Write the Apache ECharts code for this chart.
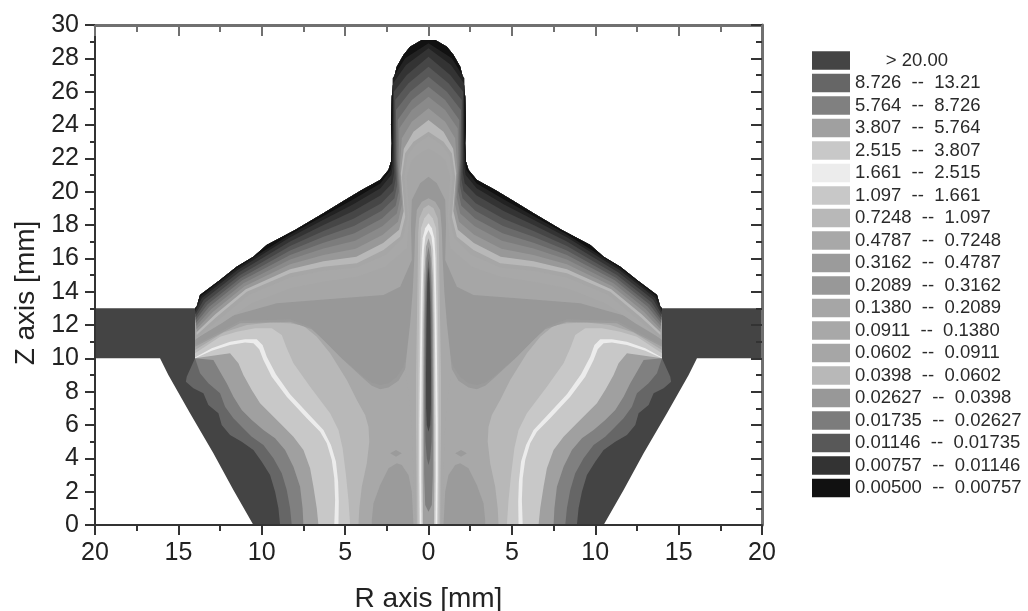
<!DOCTYPE html>
<html>
<head>
<meta charset="utf-8">
<style>
html,body{margin:0;padding:0;background:#fff}
#chart{width:1028px;height:611px}
#chart canvas{filter:blur(.55px)}
</style>
<script src="https://cdn.jsdelivr.net/npm/echarts@6/dist/echarts.min.js"></script>
</head>
<body>
<div id="chart"></div>
<script>
// All outlines are [R mm, Z mm], right half; the left half is their mirror.
const legendLabels = [
  "      > 20.00","8.726  --  13.21","5.764  --  8.726","3.807  --  5.764","2.515  --  3.807",
  "1.661  --  2.515","1.097  --  1.661","0.7248  --  1.097","0.4787  --  0.7248","0.3162  --  0.4787",
  "0.2089  --  0.3162","0.1380  --  0.2089","0.0911  --  0.1380","0.0602  --  0.0911","0.0398  --  0.0602",
  "0.02627  --  0.0398","0.01735  --  0.02627","0.01146  --  0.01735","0.00757  --  0.01146","0.00500  --  0.00757"];
const legendColors = ["#444444","#666666","#808080","#a0a0a0","#c8c8c8","#ececec","#c8c8c8","#b8b8b8","#a8a8a8","#9b9b9b",
  "#989898","#a6a6a6","#a8a8a8","#a6a6a6","#b8b8b8","#989898","#7c7c7c","#585858","#333333","#111111"];

const silhouette = [[0,29.1],[0.4,29.1],[1.1,28.7],[1.5,28.2],[1.9,27.5],[2.1,26.7],[2.2,25.7],[2.25,24],[2.2,22.9],[2.25,21.8],[2.4,21.3],[2.9,20.7],[4,20.1],[5,19.5],[6.3,18.7],[8,17.7],[9.7,16.8],[10.5,16.1],[11.5,15.5],[12.5,14.7],[13.7,13.8],[13.9,13.1],[14,13]];
const slabCone = [[20,13],[20,10],[16.1,10],[15.6,9],[14.3,6.7],[12.9,4.3],[11.7,2.1],[10.5,0],[0,0]];
const notch = [[14,10]];

const lower1 = [[14.5,8.9],[14.55,8.6],[14.1,8.2],[13.5,7.9],[13.2,7.2],[12.6,6.7],[12.4,6],[11.9,5.4],[11.2,5],[10.5,4.5],[10,3.8],[9.5,3],[9.2,2],[9,1],[8.9,0],[0,0]];
const lower2 = [[13.7,9.1],[13.2,8.5],[12.5,7.9],[12.2,7.1],[11.7,6.4],[11.2,5.9],[10.6,5.3],[9.9,4.8],[9.3,4],[8.8,3.1],[8.5,2.1],[8.3,1],[8.2,0],[0,0]];
const lower3 = [[12.9,9.9],[12.5,9.2],[12.1,8.5],[11.7,7.7],[11.2,6.9],[10.6,6.3],[9.9,5.7],[9.2,5.2],[8.6,4.5],[8.1,3.5],[7.7,2.3],[7.55,1],[7.5,0],[0,0]];
const lower4 = [[11.9,10.3],[11.4,9.7],[11.1,9],[10.6,8.1],[10.1,7.3],[9.5,6.7],[8.9,6.1],[8.1,5.3],[7.5,4.5],[7.1,3.4],[6.9,2.3],[6.7,1],[6.6,0],[0,0]];
const lower5 = [[13,10.45],[11.9,10.8],[11,10.95],[10.5,10.9],[10.15,10.55],[9.9,9.9],[9.4,8.9],[8.5,7.7],[7.3,6.4],[6.5,5.6],[6.1,4.9],[5.8,3.9],[5.65,2.8],[5.6,1.5],[5.65,0],[0,0]];
const lower6 = [[14,10.05],[13,10.6],[11.9,11],[11,11.15],[10.3,11.15],[9.95,10.8],[9.7,10.1],[9.15,9.05],[8.3,7.85],[7.1,6.55],[6.3,5.7],[5.85,4.8],[5.55,3.8],[5.42,2.6],[5.38,1.4],[5.4,0],[0,0]];
const lower7 = [[14,10.3],[12.5,11.3],[11.5,11.6],[10.4,11.8],[9.4,11.8],[8.8,11.4],[8.5,10.6],[8.1,9.7],[7.1,8.3],[5.9,6.7],[5.4,5.7],[5.15,4.6],[4.95,3],[4.8,1.5],[4.7,0],[0,0]];
const lower8 = [[14,10.5],[12.3,11.55],[10.9,12],[9.5,12.15],[8.3,12.1],[7.5,11.95],[6.7,11.3],[5.9,10.3],[4.9,8.7],[4.3,7.5],[3.8,6.6],[3.6,5.9],[3.55,5],[3.7,3.7],[4,2.3],[4.15,1],[4.2,0],[0,0]];
const plateauRing = [[14,10.7],[11.3,12.1],[8.3,12.2],[7,11.75],[6.15,11],[5.15,9.95],[3.8,8.7],[3.4,8.35],[2.9,8.15],[2.4,8.25],[1.8,8.65],[1.2,9.7],[0,9.7]];
const plateauLow = [[14,10.8],[11.3,12.25],[8.3,12.35],[7.1,11.9],[6.3,11.1],[5.3,10.1],[3.9,8.9],[3.4,8.55],[2.9,8.4],[2.4,8.5],[1.9,8.9],[1.5,9.5],[1.3,10.2],[0,10.2]];
const bottomLobe = [[1.9,3.7],[2.4,3.4],[2.9,2.4],[3.3,1.3],[3.4,0.3],[3.4,0],[0.9,0],[1,2],[1.2,3],[1.6,3.6]];
const smallSpot = [[1.6,4.3],[1.95,4.5],[2.3,4.3],[1.95,4.1]];
const plateauTop = [[14,11.1],[12.3,12.4],[9.1,13.3],[5.3,13.6],[2.7,13.8],[1.7,14.3],[1,15.9],[1.05,18],[1,19.5],[0.5,20.5],[0,20.9]];

const upperA = [[13.9,11.2],[12.4,12.1],[10.6,13.3],[8.3,14.2],[6.3,14.6],[4.3,14.9],[2.6,15.5],[1.3,16.6],[1.15,18.5],[1.3,20.9],[1,21.9],[0.5,22.3],[0,22.6]];
const upperB = [[13.88,11.25],[12.6,12.3],[10.8,13.8],[8.3,14.85],[6.3,15.25],[4.3,15.45],[2.6,16.2],[1.55,17.2],[1.25,18.5],[1.45,20.9],[1.25,22.2],[0.8,22.8],[0,23.35]];
const ridgeLow = [[13.9,11.4],[12.7,12.5],[10.9,14],[8.3,15.1],[6.3,15.5],[4.3,15.7],[2.7,16.5],[1.7,17.3],[1.4,18.5],[1.6,20.9],[1.4,22.3],[0.9,23],[0,23.6]];
const rim1 = [[13.91,11.56],[12.8,12.63],[10.96,14.15],[8.3,15.35],[6.3,15.82],[4.33,16.1],[2.72,16.92],[1.76,17.71],[1.49,18.84],[1.66,21.1],[1.48,22.57],[0.9,23.6],[0,24.3]];
const rim2 = [[13.92,11.75],[12.92,12.79],[11.03,14.33],[8.3,15.64],[6.3,16.2],[4.37,16.58],[2.74,17.42],[1.83,18.2],[1.59,19.25],[1.73,21.34],[1.6,23.2],[1,24.2],[0,25]];
const rim3 = [[13.93,11.94],[13.04,12.94],[11.1,14.51],[8.3,15.93],[6.3,16.59],[4.4,17.06],[2.77,17.93],[1.9,18.69],[1.69,19.66],[1.8,21.58],[1.75,23.8],[1,24.9],[0,25.7]];
const rim4 = [[13.95,12.12],[13.15,13.09],[11.17,14.68],[8.3,16.2],[6.3,16.94],[4.44,17.5],[2.79,18.39],[1.97,19.15],[1.78,20.03],[1.87,21.8],[1.85,24.3],[1,25.5],[0,26.3]];
const rim5 = [[13.96,12.3],[13.26,13.23],[11.24,14.84],[8.3,16.47],[6.3,17.29],[4.47,17.94],[2.81,18.85],[2.04,19.6],[1.88,20.4],[1.94,22.02],[1.95,24.9],[1.1,26],[0,26.9]];
const rim6 = [[13.97,12.47],[13.37,13.37],[11.3,15],[8.3,16.74],[6.3,17.64],[4.5,18.38],[2.83,19.31],[2.1,20.05],[1.97,20.78],[2,22.24],[2,25.5],[1.2,26.5],[0,27.5]];
const rim7 = [[13.98,12.65],[13.48,13.51],[11.37,15.17],[8.3,17.01],[6.3,18],[4.53,18.82],[2.86,19.78],[2.17,20.5],[2.06,21.15],[2.07,22.46],[2.08,26],[1.3,27],[0,28.1]];
const rim8 = [[13.99,12.81],[13.58,13.64],[11.43,15.32],[8.3,17.26],[6.3,18.32],[4.56,19.22],[2.88,20.2],[2.23,21],[2.15,21.49],[2.13,22.66],[2.12,26.5],[1.35,27.6],[0,28.6]];
const rim9 = [[14,12.92],[13.65,13.74],[11.47,15.43],[8.3,17.43],[6.3,18.54],[4.58,19.5],[2.89,20.49],[2.27,21.3],[2.21,21.72],[2.17,22.8],[2.15,26.8],[1.4,28],[0,28.9]];

const core1 = [[0,19.6],[0.4,19.4],[0.7,18.9],[0.8,17.7],[0.85,16],[0.95,14],[1.1,12.1],[1.3,10.3],[1.4,9.3],[1.2,8],[1,6],[0.9,3],[0.85,0],[0,0]];
const core2 = [[0,19.2],[0.3,19],[0.55,18.4],[0.62,17.5],[0.65,15],[0.7,12],[0.75,9],[0.75,6],[0.72,3],[0.7,0],[0,0]];
const core3 = [[0,18.7],[0.25,18.4],[0.45,17.8],[0.5,16.5],[0.55,14],[0.6,10],[0.62,6],[0.62,3],[0.6,0],[0,0]];
const core4 = [[0,18.1],[0.2,17.8],[0.35,17.2],[0.42,16],[0.47,13],[0.52,9],[0.55,6],[0.55,3],[0.52,0],[0,0]];
const core5 = [[0,17.7],[0.18,17.3],[0.28,16.5],[0.35,14],[0.4,10],[0.43,6],[0.44,3],[0.42,0],[0,0]];
const core6 = [[0,17.2],[0.15,16.7],[0.25,15],[0.3,12],[0.32,9],[0.34,6],[0.35,3],[0.33,0],[0,0]];
const core7 = [[0,16.7],[0.12,16],[0.2,14],[0.24,12],[0.26,9],[0.27,6],[0.26,3],[0.2,1.2],[0,0.8]];
const core8 = [[0,16],[0.1,15],[0.16,13],[0.19,10],[0.2,7],[0.18,5],[0.1,4],[0,3.6]];
const core9 = [[0,15.5],[0.07,14.5],[0.12,12],[0.15,9],[0.14,7],[0.1,6],[0,5.6]];

// Painter's order: each layer is [legend index or shade colour, outline]
const down = l => silhouette.concat(notch, l);      // region from the outer rim down to a lower contour
const up = l => silhouette.concat(l);               // region from the outer rim to an upper contour
const layers = [
  [0, silhouette.concat(slabCone)],
  [1, down(lower1)],[2, down(lower2)],[3, down(lower3)],[4, down(lower4)],[5, down(lower5)],
  [6, up(lower6)],[7, up(lower7)],[8, up(lower8)],[9, up(plateauRing)],[10, up(plateauLow)],
  [9, bottomLobe],[9, smallSpot],
  [11, up(plateauTop)],[12, up(upperA)],[13, up(upperB)],[14, up(ridgeLow)],
  [15, up(rim1)],["#8a8a8a", up(rim2)],[16, up(rim3)],["#6a6a6a", up(rim4)],[17, up(rim5)],
  ["#464646", up(rim6)],[18, up(rim7)],["#222222", up(rim8)],[19, up(rim9)],
  [8, core1],[7, core2],[6, core3],[5, core4],[4, core5],[3, core6],[2, core7],[1, core8],[0, core9]
];

function renderBand(outline){
  return function(params, api){
    const a = outline.map(p => api.coord(p));
    const b = outline.map(p => api.coord([-p[0], p[1]])).reverse();
    const style = {fill: api.visual('color')};
    const first = outline[0][0], last = outline[outline.length-1][0];
    if (first === 0 && last === 0) {
      return {type:'polygon', shape:{points:a.concat(b)}, style};
    }
    return {type:'group', children:[
      {type:'polygon', shape:{points:a}, style},
      {type:'polygon', shape:{points:b}, style}
    ]};
  };
}

const series = layers.map((l, i) => {
  const named = typeof l[0] === 'number';
  return {
    type:'custom',
    name: named ? legendLabels[l[0]] : 'shade ' + i,
    coordinateSystem:'cartesian2d',
    silent:true,
    clip:true,
    z: 2 + i/100,
    itemStyle:{color: named ? legendColors[l[0]] : l[0]},
    data:[[0,0]],
    renderItem: renderBand(l[1])
  };
});

const dark = '#333333', gray = '#707070';
const chart = echarts.init(document.getElementById('chart'), null, {renderer:'canvas'});
chart.setOption({
  animation:false,
  backgroundColor:'#fff',
  textStyle:{fontFamily:'"Liberation Sans",Arial,sans-serif'},
  grid:{left:95,top:25,width:667,height:500,outerBoundsMode:'none'},
  legend:{
    orient:'vertical',left:812,top:51,
    icon:'rect',itemWidth:38,itemHeight:18.5,itemGap:3.5,
    selectedMode:false,padding:0,
    textStyle:{fontSize:18.5,lineHeight:14,padding:[5,0,0,0],color:'#2a2a2a',fontFamily:'"Liberation Sans",Arial,sans-serif'},
    data:legendLabels
  },
  xAxis:[{
    type:'value',min:-20,max:20,interval:5,position:'bottom',z:10,
    name:'R axis [mm]',nameLocation:'middle',nameGap:60,
    nameTextStyle:{fontSize:28,color:'#222'},
    axisLine:{show:true,onZero:false,lineStyle:{color:dark,width:2}},
    axisTick:{show:true,inside:false,length:10,lineStyle:{color:dark,width:2}},
    minorTick:{show:true,splitNumber:2,length:6,lineStyle:{color:dark,width:2}},
    axisLabel:{fontSize:25,color:'#222',margin:16,formatter:v=>String(Math.abs(v))},
    splitLine:{show:false}
  },{
    type:'value',min:-20,max:20,interval:5,position:'top',z:10,
    axisLine:{show:true,onZero:false,lineStyle:{color:gray,width:3}},
    axisTick:{show:true,inside:true,length:11,lineStyle:{color:gray,width:2}},
    minorTick:{show:true,splitNumber:2,length:7,lineStyle:{color:gray,width:2}},
    axisLabel:{show:false},splitLine:{show:false}
  }],
  yAxis:[{
    type:'value',min:0,max:30,interval:2,position:'left',z:10,
    name:'Z axis [mm]',nameLocation:'middle',nameGap:55,nameRotate:90,
    nameTextStyle:{fontSize:28,color:'#222',padding:[0,36,0,0]},
    axisLine:{show:true,onZero:false,lineStyle:{color:dark,width:2}},
    axisTick:{show:true,inside:false,length:10,lineStyle:{color:dark,width:2}},
    minorTick:{show:true,splitNumber:2,length:5,lineStyle:{color:dark,width:2}},
    axisLabel:{fontSize:25,color:'#222',margin:16},
    splitLine:{show:false}
  },{
    type:'value',min:0,max:30,interval:2,position:'right',z:10,
    axisLine:{show:true,onZero:false,lineStyle:{color:gray,width:3}},
    axisTick:{show:true,inside:true,length:11,lineStyle:{color:dark,width:2}},
    minorTick:{show:true,splitNumber:2,length:6,lineStyle:{color:dark,width:2}},
    axisLabel:{show:false},splitLine:{show:false}
  }],
  series
});
</script>
</body>
</html>
